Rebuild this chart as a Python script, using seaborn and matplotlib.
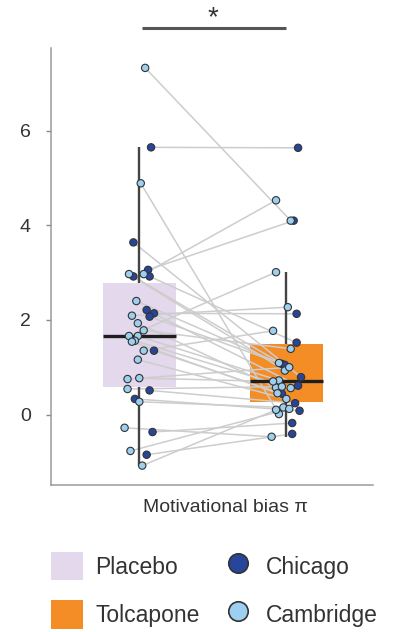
import numpy as np
import pandas as pd
import matplotlib
matplotlib.use("Agg")
import matplotlib.pyplot as plt
from matplotlib.patches import Patch
from matplotlib.lines import Line2D
import seaborn as sns

# ---------------- data ----------------
site = ["Chicago"] * 13 + ["Cambridge"] * 21
placebo = [5.65, 3.06, 3.64, 2.92, 2.14, 2.92, 2.21, 2.07, 1.35, 0.51, 0.33, -0.37, -0.85,
           7.33, 4.89, 2.97, 2.97, 2.40, 2.09, 1.93, 1.78, 1.66, 1.66, 1.56, 1.54, 1.35,
           1.16, 0.77, 0.75, 0.54, 0.27, -0.28, -0.77, -1.08]
tolcapone = [5.64, 4.10, 0.79, 1.07, 2.13, 1.52, 0.61, 1.05, 0.44, 0.24, 0.08, -0.18, -0.41,
             4.10, 0.01, 4.53, 0.93, 1.09, 2.27, 0.57, 1.39, 3.01, 0.72, 0.56, 0.45, 1.77,
             0.33, 0.70, 1.00, 0.59, 0.15, -0.47, 0.12, 0.10]
# horizontal scatter of each point around its box (category units)
jitter_placebo = [0.08, 0.06, -0.04, -0.04, 0.10, 0.07, 0.05, 0.07, 0.10, 0.07, -0.03, 0.09, 0.05,
                  0.04, 0.01, 0.03, -0.07, -0.02, -0.05, -0.01, 0.03, -0.07, -0.01, -0.03, -0.05,
                  0.03, -0.01, 0.00, -0.08, -0.08, 0.00, -0.10, -0.06, 0.02]
jitter_tolcapone = [0.08, 0.05, 0.10, -0.03, 0.07, 0.07, 0.08, -0.01, -0.03, 0.06, 0.09, 0.04, 0.04,
                    0.03, -0.05, -0.07, -0.01, -0.05, 0.01, -0.07, 0.03, -0.07, -0.05, 0.03, -0.06,
                    -0.09, 0.00, -0.09, 0.02, -0.03, -0.02, -0.10, 0.02, -0.07]
conditions = ["Placebo", "Tolcapone"]
sites = ["Chicago", "Cambridge"]
yticks = [0, 2, 4, 6]
xlabel = "Motivational bias π"
sig_label = "*"

# ---------------- styles ----------------
box_colors = {"Placebo": "#e3d8ec", "Tolcapone": "#f58d27"}
site_colors = {"Chicago": "#27459a", "Cambridge": "#9dcff0"}

sns.set_theme(style="ticks")
plt.rcParams["font.family"] = ["Liberation Sans", "DejaVu Sans"]
plt.rcParams["text.color"] = "#333333"

n = len(placebo)
df = pd.DataFrame({
    "subject": list(range(n)) * 2,
    "site": site * 2,
    "condition": ["Placebo"] * n + ["Tolcapone"] * n,
    "value": placebo + tolcapone,
    "xpos": [0 + j for j in jitter_placebo] + [1 + j for j in jitter_tolcapone],
})

fig = plt.figure(figsize=(3.99, 6.32), dpi=100)
ax = fig.add_axes([0.128, 0.2326, 0.807, 0.6914])

sns.boxplot(data=df, x="condition", y="value", order=conditions, hue="condition",
            hue_order=conditions, palette=box_colors, saturation=1, width=0.5,
            showfliers=False, showcaps=False, legend=False, ax=ax,
            boxprops=dict(edgecolor="none", linewidth=0, zorder=1),
            whiskerprops=dict(color="#444444", linewidth=1.7, zorder=2),
            medianprops=dict(color="#1e1e1e", linewidth=2.4, zorder=2))

sns.lineplot(data=df, x="xpos", y="value", units="subject", estimator=None,
             color="#cdcdcd", linewidth=1.1, legend=False, ax=ax, zorder=1.5)

sns.scatterplot(data=df, x="xpos", y="value", hue="site", hue_order=sites,
                palette=site_colors, s=28, edgecolor="#333333", linewidth=0.8,
                legend=False, ax=ax, zorder=3)

# significance bar
ax.plot([0.02, 1.0], [8.17, 8.17], color="#555555", lw=2.2, clip_on=False,
        solid_capstyle="butt")
ax.text(0.5, 8.24, sig_label, ha="center", va="baseline", fontsize=20, color="#333333")

ax.set_xlim(-0.6, 1.59)
ax.set_ylim(-1.49, 7.75)
ax.set_yticks(yticks)
ax.set_xticks([])
ax.set_ylabel("")
ax.set_xlabel(xlabel, fontsize=14, color="#333333")
ax.xaxis.set_label_coords(0.542, -0.032)
ax.xaxis.label.set_va("top")
ax.tick_params(axis="y", length=3.5, width=1, color="#888888", labelsize=14,
               labelcolor="#333333", pad=11)
for s in ["top", "right"]:
    ax.spines[s].set_visible(False)
for s in ["left", "bottom"]:
    ax.spines[s].set_color("#9a9a9a")
    ax.spines[s].set_linewidth(1.1)

handles = [Patch(facecolor=box_colors["Placebo"], edgecolor="none"),
           Patch(facecolor=box_colors["Tolcapone"], edgecolor="none"),
           Line2D([], [], marker="o", linestyle="none", markersize=14,
                  markerfacecolor=site_colors["Chicago"], markeredgecolor="#333333",
                  markeredgewidth=1.2),
           Line2D([], [], marker="o", linestyle="none", markersize=14,
                  markerfacecolor=site_colors["Cambridge"], markeredgecolor="#333333",
                  markeredgewidth=1.2)]
labels = [conditions[0], conditions[1], sites[0], sites[1]]
fig.legend(handles, labels, loc="upper left", bbox_to_anchor=(0.128, 0.127), ncol=2,
           frameon=False, fontsize=16.5, handlelength=1.4, handleheight=1.55,
           handletextpad=0.52, columnspacing=1.0, labelspacing=0.85, borderpad=0,
           borderaxespad=0)

fig.savefig("out.png", dpi=100)
